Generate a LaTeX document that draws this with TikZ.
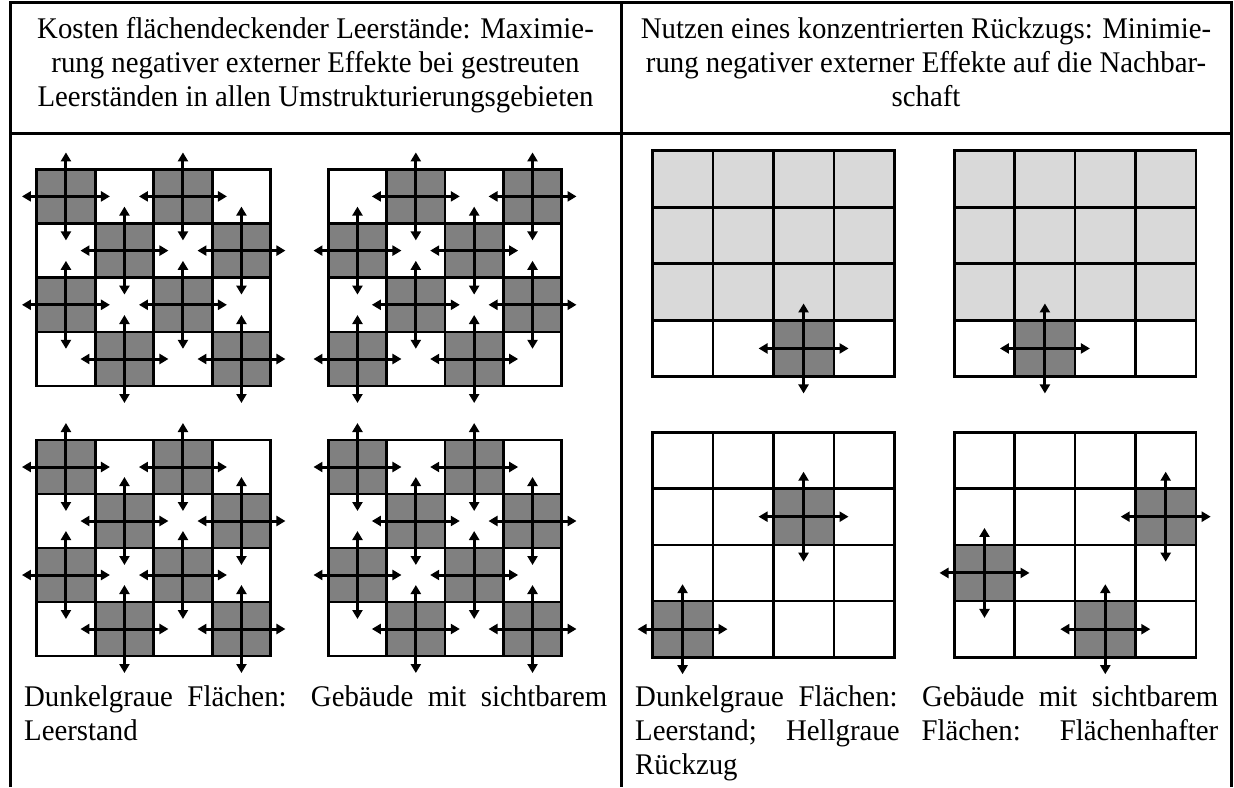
\documentclass[tikz,border=0pt]{standalone}
\usepackage{fontspec}
\setmainfont{Liberation Serif}[FakeStretch=0.96]
\usetikzlibrary{arrows.meta}
\definecolor{darkcell}{HTML}{808080}
\definecolor{lightcell}{HTML}{D9D9D9}
\newcommand\topstrut{\rule{0pt}{27pt}}
% #1 x0, #2 y0, #3 cell width, #4 cell height, #5 half arrow length, #6 dark cells (col/row)
\newcommand\cellgrid[6]{%
\begin{scope}[shift={(#1,#2)}, x=#3pt, y=-#4pt]
  \foreach \cc/\rr in {#6} {\fill[darkcell] (\cc,\rr) rectangle ++(1,1);}
  \foreach \ii in {1,2,3} {\draw[gridline] (\ii,0) -- (\ii,4); \draw[gridline] (0,\ii) -- (4,\ii);}
  \draw[gridline] (0,0) rectangle (4,4);
  \foreach \cc/\rr in {#6} {
    \draw[arr, shift={(\cc+0.5,\rr+0.5)}] (-#5pt,0pt) -- (#5pt,0pt);
    \draw[arr, shift={(\cc+0.5,\rr+0.5)}] (0pt,-#5pt) -- (0pt,#5pt);
  }
\end{scope}}
% light grey band: rows 0-2
\newcommand\lightband[4]{%
\begin{scope}[shift={(#1,#2)}, x=#3pt, y=-#4pt]
  \fill[lightcell] (0,0) rectangle (4,3);
\end{scope}}
\begin{document}
\begin{tikzpicture}[x=1pt,y=-1pt,
  frame/.style={line width=3pt},
  gridline/.style={line width=2.6pt},
  arr/.style={line width=3pt, {Triangle[length=9pt,width=10pt]}-{Triangle[length=9pt,width=10pt]}},
  txt/.style={inner sep=0pt, font=\fontsize{30}{34}\selectfont},
]
\useasboundingbox (0,0) rectangle (1234,787);

% table frame
\draw[frame] (10,787) -- (10,2.5) -- (1231,2.5) -- (1231,787);
\draw[frame] (10,133) -- (1231,133);
\draw[frame] (621,2.5) -- (621,787);

% headers
\node[txt, align=center, anchor=north] (hl) at (315.5,11)
  {\topstrut Kosten flächendeckender Leerstände: Maximie-\\rung negativer externer Effekte bei gestreuten\\Leerständen in allen Umstrukturierungsgebieten};
\node[txt, align=center, anchor=north] (hr) at (926,11)
  {\topstrut Nutzen eines konzentrierten Rückzugs: Minimie-\\rung negativer externer Effekte auf die Nachbar-\\schaft};

% left column grids (scattered vacancies)
\cellgrid{36.7}{169.3}{58.5}{54.2}{44}{0/0,2/0,1/1,3/1,0/2,2/2,1/3,3/3}
\cellgrid{328.3}{169.3}{58.35}{54.2}{44}{1/0,3/0,0/1,2/1,1/2,3/2,0/3,2/3}
\cellgrid{36.7}{440}{58.5}{54}{44}{0/0,2/0,1/1,3/1,0/2,2/2,1/3,3/3}
\cellgrid{328.3}{440}{58.35}{54}{44}{0/0,2/0,1/1,3/1,0/2,2/2,1/3,3/3}

% right column grids (concentrated retreat)
\lightband{652.3}{150.7}{60.5}{56.5}
\cellgrid{652.3}{150.7}{60.5}{56.5}{45}{2/3}
\lightband{954.3}{150.7}{60.4}{56.5}
\cellgrid{954.3}{150.7}{60.4}{56.5}{45}{1/3}
\cellgrid{652.3}{432.3}{60.5}{56.25}{45}{2/1,0/3}
\cellgrid{954.3}{432.3}{60.4}{56.25}{45}{3/1,0/2,2/3}

% captions
\node[txt, text width=583pt, align=justify, anchor=north west] (fl) at (24,679)
  {\noindent\topstrut Dunkelgraue Flächen: Gebäude mit sichtbarem\linebreak Leerstand};
\node[txt, text width=583pt, align=justify, anchor=north west] (fr) at (635,679)
  {\noindent\topstrut Dunkelgraue Flächen: Gebäude mit sichtbarem\linebreak Leerstand; Hellgraue Flächen: Flächenhafter\linebreak Rückzug};
\end{tikzpicture}
\end{document}
